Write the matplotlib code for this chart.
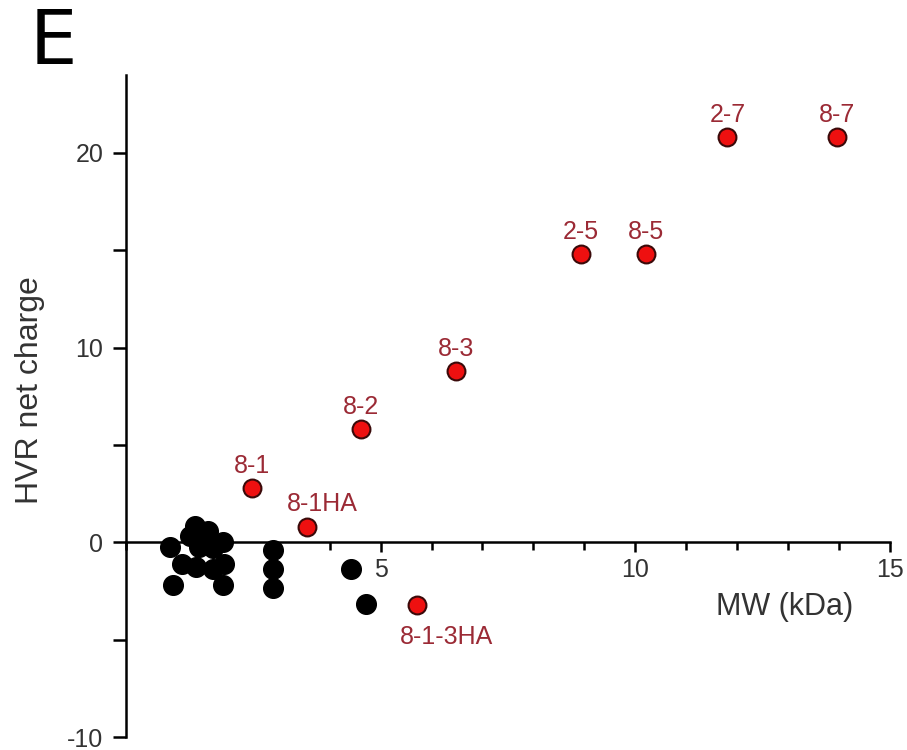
import matplotlib.pyplot as plt
from matplotlib.ticker import MultipleLocator

plt.rcParams['font.family'] = ['Liberation Sans', 'DejaVu Sans']
plt.rcParams['axes.unicode_minus'] = False

# black points (unlabelled)
black_x = [0.86, 0.92, 1.90, 1.35, 1.60, 1.90, 1.09, 1.38, 1.70, 1.93, 1.44, 1.70,
           1.25, 2.88, 2.88, 2.88, 4.41, 4.71]
black_y = [-0.24, -2.2, -2.2, 0.84, 0.6, 0.0, -1.1, -1.25, -1.35, -1.1, -0.24, -0.3,
           0.3, -0.4, -1.35, -2.37, -1.35, -3.15]

# red labelled points
red_names = ['8-1', '8-1HA', '8-2', '8-3', '2-5', '8-5', '2-7', '8-7', '8-1-3HA']
red_x = [2.48, 3.55, 4.61, 6.49, 8.93, 10.22, 11.81, 13.96, 5.72]
red_y = [2.8, 0.8, 5.8, 8.8, 14.8, 14.8, 20.8, 20.8, -3.2]

fig = plt.figure(figsize=(9.07, 7.5), dpi=100)
ax = fig.add_axes([0.139, 0.0173, 0.842, 0.8827])

ax.scatter(black_x, black_y, s=200, color='black', zorder=3)
ax.scatter(red_x, red_y, s=165, color='#ee1010', edgecolor='#3a0a0a', linewidth=1.5, zorder=4)

lab_col = '#9b2a35'
for name, x, y in zip(red_names, red_x, red_y):
    if name == '8-1-3HA':
        ax.annotate(name, (x, y), xytext=(21, -28), textcoords='offset points',
                    ha='center', va='baseline', color=lab_col, fontsize=18)
    elif name == '8-1HA':
        ax.annotate(name, (x, y), xytext=(11, 11), textcoords='offset points',
                    ha='center', va='baseline', color=lab_col, fontsize=18)
    else:
        ax.annotate(name, (x, y), xytext=(0, 11), textcoords='offset points',
                    ha='center', va='baseline', color=lab_col, fontsize=18)

ax.set_xlim(0, 15)
ax.set_ylim(-10, 24)
ax.spines['top'].set_visible(False)
ax.spines['right'].set_visible(False)
ax.spines['bottom'].set_position(('data', 0))
ax.spines['bottom'].set_linewidth(1.8)
ax.spines['left'].set_linewidth(1.8)

ax.set_xticks([5, 10, 15])
ax.xaxis.set_minor_locator(MultipleLocator(1))
ax.set_yticks([-10, 0, 10, 20])
ax.yaxis.set_minor_locator(MultipleLocator(5))
ax.tick_params(axis='x', which='both', direction='out', width=1.8,
               labelcolor='#333333', labelsize=18, pad=4)
ax.tick_params(axis='x', which='major', length=7)
ax.tick_params(axis='x', which='minor', length=6)
ax.tick_params(axis='y', which='both', direction='out', length=9.5, width=1.8,
               labelcolor='#333333', labelsize=18, pad=7)

ax.set_xlabel('MW (kDa)', fontsize=22, color='#333333')
ax.xaxis.set_label_coords(0.862, 0.219)
ax.set_ylabel('HVR net charge', fontsize=23, color='#333333')
ax.yaxis.set_label_coords(-0.106, 0.524)

fig.text(0.033, 0.991, 'E', fontsize=54, color='black', ha='left', va='top',
         family=['Liberation Sans Narrow', 'DejaVu Sans'])

fig.savefig('out.png', dpi=100)
